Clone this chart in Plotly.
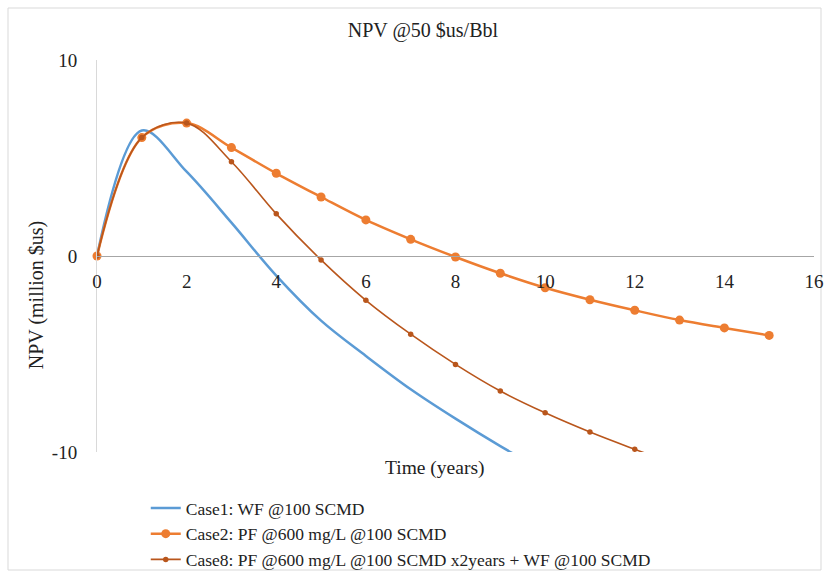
import plotly.graph_objects as go

years_case1 = [0, 1, 2, 3, 4, 5, 6, 7, 8, 9, 10]
npv_case1 = [0, 6.4, 4.3, 1.7, -1.0, -3.3, -5.1, -6.8, -8.3, -9.7, -11.0]

years_case2 = list(range(0, 16))
npv_case2 = [0, 6.04, 6.78, 5.53, 4.22, 3.01, 1.84, 0.85, -0.05, -0.88, -1.62,
             -2.23, -2.77, -3.27, -3.67, -4.05]

years_case8 = list(range(0, 14))
npv_case8 = [0, 6.04, 6.78, 4.81, 2.15, -0.2, -2.26, -3.99, -5.53, -6.89, -8.0,
             -8.98, -9.86, -10.7]

names = ["Case1: WF @100 SCMD",
         "Case2: PF @600 mg/L @100 SCMD",
         "Case8: PF @600 mg/L @100 SCMD x2years + WF @100 SCMD"]

x_ticks = [0, 2, 4, 6, 8, 10, 12, 14, 16]
y_ticks = [-10, 0, 10]
y_ticklabels = ["-10", "0", "10"]

FONT = "Times New Roman"
TXT = "#222222"

fig = go.Figure()
fig.add_trace(go.Scatter(x=years_case1, y=npv_case1, mode="lines", name=names[0],
                         line=dict(color="#5B9BD5", width=2.5, shape="spline")))
fig.add_trace(go.Scatter(x=years_case2, y=npv_case2, mode="lines+markers", name=names[1],
                         line=dict(color="#ED7D31", width=2.5, shape="spline"),
                         marker=dict(size=9, color="#ED7D31"), cliponaxis=False))
fig.add_trace(go.Scatter(x=years_case8, y=npv_case8, mode="lines+markers", name=names[2],
                         line=dict(color="#B9561C", width=1.6, shape="spline"),
                         marker=dict(size=5.5, color="#B9561C")))

fig.update_layout(
    width=826, height=575,
    margin=dict(l=97, r=12, t=60, b=123, autoexpand=False),
    paper_bgcolor="white", plot_bgcolor="white",
    font=dict(family=FONT, size=19, color=TXT),
    title=dict(text="NPV @50 $us/Bbl", x=0.512, xanchor="center", y=0.947, yanchor="middle",
               font=dict(family=FONT, size=20, color=TXT)),
    showlegend=True,
    legend=dict(x=0.068, y=-0.097, xanchor="left", yanchor="top", orientation="v",
                font=dict(family=FONT, size=17.5, color=TXT),
                bgcolor="rgba(0,0,0,0)", tracegroupgap=0),
    xaxis=dict(range=[0, 16], tickvals=x_ticks, anchor="free", position=0.5,
               showgrid=False, zeroline=False, showline=True, linecolor="#A6A6A6",
               linewidth=1, ticks="", ticklabelstandoff=8,
               tickfont=dict(family=FONT, size=19, color=TXT)),
    yaxis=dict(range=[-10, 10], tickvals=y_ticks, ticktext=y_ticklabels,
               showgrid=True, gridcolor="#D9D9D9",
               gridwidth=1, zeroline=False, showline=True, linecolor="#D9D9D9",
               ticks="", ticklabelstandoff=15,
               tickfont=dict(family=FONT, size=19, color=TXT)),
)

fig.add_annotation(text="Time (years)", xref="paper", yref="paper", x=0.471, y=-0.008,
                   xanchor="center", yanchor="top", showarrow=False,
                   font=dict(family=FONT, size=19.5, color=TXT))
fig.add_annotation(text="NPV (million $us)", xref="paper", yref="paper", x=-0.085, y=0.4,
                   xanchor="center", yanchor="middle", textangle=-90, showarrow=False,
                   font=dict(family=FONT, size=20, color=TXT))

# outer chart frame
fig.add_shape(type="rect", xref="paper", yref="paper",
              x0=(8 - 97) / 717, x1=(821 - 97) / 717,
              y0=(452 - 570) / 392, y1=(452 - 8) / 392,
              line=dict(color="#D9D9D9", width=1), fillcolor="rgba(0,0,0,0)", layer="below")

fig.write_html("out.html")
